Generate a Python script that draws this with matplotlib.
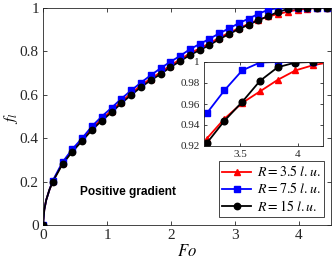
import numpy as np
import matplotlib
matplotlib.use("Agg")
import matplotlib.pyplot as plt

plt.rcParams['font.family'] = ['Liberation Serif', 'DejaVu Serif']
plt.rcParams['mathtext.fontset'] = 'stix'

# Fourier number at marker positions
dfo = 0.153
fo = [round(i * dfo, 4) for i in range(30)]

# early fine samples of the curves (same for all series)
fo_early = [0.02, 0.05, 0.10]
f_early = [0.07, 0.115, 0.162]

f_r35 = [0, 0.201, 0.286, 0.345, 0.395, 0.445, 0.488, 0.527, 0.569, 0.607, 0.643,
         0.675, 0.703, 0.735, 0.763, 0.791, 0.814, 0.837, 0.863, 0.886, 0.907,
         0.927, 0.946, 0.961, 0.972, 0.983, 0.992, 0.997, 1.0, 1.0]
f_r75 = [0, 0.205, 0.29, 0.35, 0.40, 0.455, 0.50, 0.54, 0.582, 0.62, 0.656,
         0.69, 0.722, 0.752, 0.779, 0.81, 0.834, 0.858, 0.883, 0.906, 0.93,
         0.951, 0.973, 0.992, 0.9995, 1.0, 1.0, 1.0, 1.0, 1.0]
f_r15 = [0, 0.2, 0.281, 0.338, 0.388, 0.438, 0.481, 0.519, 0.561, 0.599, 0.635,
         0.667, 0.695, 0.727, 0.755, 0.783, 0.806, 0.829, 0.856, 0.88, 0.903,
         0.9226, 0.944, 0.962, 0.982, 0.995, 0.9995, 1.0, 1.0, 1.0]

labels = [r'$R=3.5\ l.u.$', r'$R=7.5\ l.u.$', r'$R=15\ l.u.$']
series = [f_r35, f_r75, f_r15]
colors = ['#ff0000', '#0000ff', '#000000']
markers = ['^', 's', 'o']

x_ticks = [0, 1, 2, 3, 4]
y_ticks = [0, 0.2, 0.4, 0.6, 0.8, 1]
y_ticklabels = ['0', '0.2', '0.4', '0.6', '0.8', '1']
ins_xticks = [3.5, 4]
ins_xticklabels = ['3.5', '4']
ins_yticks = [0.92, 0.94, 0.96, 0.98, 1.0]
ins_yticklabels = ['0.92', '0.94', '0.96', '0.98', '1']

axcol = '#262626'

fig = plt.figure(figsize=(3.32, 2.65), dpi=100)
ax = fig.add_axes([43/332, 40/265, 288/332, 217/265])

handles = []
for f, c, m, lab in zip(series, colors, markers, labels):
    xline = [fo[0]] + fo_early + fo[1:]
    yline = [f[0]] + f_early + f[1:]
    ax.plot(xline, yline, '-', color=c, lw=1.3, zorder=2)
    ax.plot(fo, f, linestyle='none', marker=m, color=c, ms=4.6, zorder=3)
    h, = ax.plot([], [], '-', color=c, marker=m, lw=1.3, ms=4.6)
    handles.append(h)

ax.set_xlim(0, 4.5)
ax.set_ylim(0, 1)
ax.set_xticks(x_ticks)
ax.set_xticklabels([str(t) for t in x_ticks])
ax.set_yticks(y_ticks)
ax.set_yticklabels(y_ticklabels)
ax.tick_params(direction='in', top=True, right=True, labelsize=11,
               colors=axcol, length=3, width=0.6, pad=3)
for sp in ax.spines.values():
    sp.set_color(axcol)
    sp.set_linewidth(0.6)
ax.set_xlabel(r'$Fo$', fontsize=12, labelpad=1)
ax.set_ylabel(r'$f_l$', fontsize=11)
ax.yaxis.label.set_verticalalignment('center')
ax.yaxis.set_label_coords(-0.112, 0.49)

ax.text(0.578, 0.153, 'Positive gradient', family=['Liberation Sans', 'DejaVu Sans'],
        fontweight='bold', fontsize=8.6, ha='left', va='center', zorder=5)

leg = ax.legend(handles, labels, loc='lower right',
                bbox_to_anchor=(324/332, 48/265), bbox_transform=fig.transFigure,
                fontsize=10, handlelength=2.1, labelspacing=0.15,
                handletextpad=0.4, borderpad=0.25, borderaxespad=0,
                fancybox=False, framealpha=1, edgecolor=axcol)
leg.get_frame().set_linewidth(0.6)

# inset
ins = fig.add_axes([204/332, 119/265, 119/332, 84/265])
for f, c, m in zip(series, colors, markers):
    ins.plot(fo, f, '-', color=c, marker=m, lw=1.3, ms=4.8)
ins.set_xlim(3.19, 4.215)
ins.set_ylim(0.92, 1.0)
ins.set_xticks(ins_xticks)
ins.set_xticklabels(ins_xticklabels)
ins.set_yticks(ins_yticks)
ins.set_yticklabels(ins_yticklabels)
ins.tick_params(direction='in', top=True, right=True, labelsize=8,
                colors=axcol, length=2.5, width=0.6, pad=3)
for sp in ins.spines.values():
    sp.set_color(axcol)
    sp.set_linewidth(0.6)

fig.savefig('out.png', dpi=100)
